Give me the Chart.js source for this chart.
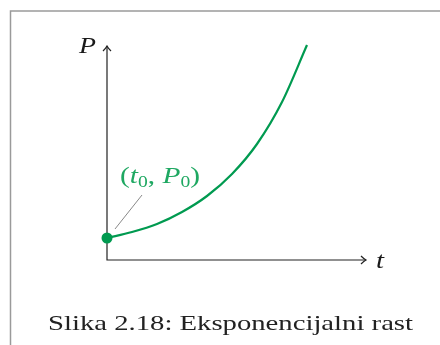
<!DOCTYPE html>
<html>
<head>
<meta charset="utf-8">
<script src="https://cdn.jsdelivr.net/npm/chart.js@4/dist/chart.umd.min.js"></script>
<style>
  html, body { margin: 0; padding: 0; background: #fff; }
  #wrap { width: 440px; height: 345px; position: relative; }
</style>
</head>
<body>
<div id="wrap"><canvas id="myChart" width="440" height="345"></canvas></div>
<script>
// growth curve P(t), t in axis units
let tValues = [0, 0.25, 0.5, 0.75, 1.0, 1.25, 1.5, 1.75, 2.0];
let pValues = [0.22, 0.28, 0.36, 0.48, 0.64, 0.86, 1.16, 1.58, 2.15];
let tMax = 2.59;
let pMax = 2.14;
let caption = "Slika 2.18: Eksponencijalni rast";

let green = "#009a50";
let serif = "'Liberation Serif', 'DejaVu Serif', serif";

var ctx = document.getElementById("myChart");

// draw text squeezed/stretched horizontally to a given width
function fitText(c, text, x, y, width) {
  let w = c.measureText(text).width;
  c.save();
  c.translate(x, y);
  c.scale(width / w, 1);
  c.fillText(text, 0, 0);
  c.restore();
}

// frame, axes with arrows, labels and caption
const sketch = {
  id: "sketch",
  beforeDatasetsDraw(chart) {
    let c = chart.ctx;
    let xs = chart.scales.x, ys = chart.scales.y;
    let x0 = xs.getPixelForValue(0), y0 = ys.getPixelForValue(0);
    let x1 = xs.getPixelForValue(tMax), y1 = ys.getPixelForValue(pMax);
    c.save();
    // page frame
    c.strokeStyle = "#9a9a9a";
    c.lineWidth = 1.5;
    c.beginPath();
    c.moveTo(10.5, 345);
    c.lineTo(10.5, 11);
    c.lineTo(440, 11);
    c.stroke();
    // axes
    c.strokeStyle = "#222";
    c.lineWidth = 1.2;
    c.beginPath();
    c.moveTo(x0, y1);
    c.lineTo(x0, y0);
    c.lineTo(x1, y0);
    c.stroke();
    c.beginPath();
    c.moveTo(x0 - 4, y1 + 5);
    c.quadraticCurveTo(x0 - 1, y1 + 2, x0, y1);
    c.quadraticCurveTo(x0 + 1, y1 + 2, x0 + 4, y1 + 5);
    c.moveTo(x1 - 5, y0 - 4);
    c.quadraticCurveTo(x1 - 2, y0 - 1, x1, y0);
    c.quadraticCurveTo(x1 - 2, y0 + 1, x1 - 5, y0 + 4);
    c.stroke();
    // axis names
    c.fillStyle = "#1a1a1a";
    c.font = "italic 24px " + serif;
    c.textBaseline = "alphabetic";
    c.textAlign = "left";
    fitText(c, "P", x0 - 28, y1 + 7, 17);
    fitText(c, "t", x1 + 10, y0 + 8, 8);
    // caption
    c.fillStyle = "#222";
    c.font = "22px " + serif;
    fitText(c, caption, 48, 330, 365);
    // callout for the starting point
    let px = xs.getPixelForValue(tValues[0]), py = ys.getPixelForValue(pValues[0]);
    c.strokeStyle = "#888";
    c.lineWidth = 1;
    c.beginPath();
    c.moveTo(px + 8, py - 9);
    c.lineTo(px + 35, py - 43);
    c.stroke();
    // (t0, P0)
    c.fillStyle = "#1fa862";
    let parts = [
      ["(", "24px " + serif, 0],
      ["t", "italic 24px " + serif, 0],
      ["0", "16px " + serif, 4],
      [", ", "24px " + serif, 0],
      ["P", "italic 24px " + serif, 0],
      ["0", "16px " + serif, 4],
      [")", "24px " + serif, 0],
    ];
    let total = 0;
    parts.forEach((p) => {
      c.font = p[1];
      total += c.measureText(p[0]).width;
    });
    let k = 80 / total;
    c.save();
    c.translate(px + 13, py - 55);
    c.scale(k, 1);
    let lx = 0;
    parts.forEach((p) => {
      c.font = p[1];
      c.fillText(p[0], lx, p[2]);
      lx += c.measureText(p[0]).width;
    });
    c.restore();
    c.restore();
  },
};

var myLineChart = new Chart(ctx, {
  type: "line",
  data: {
    labels: tValues,
    datasets: [
      {
        data: tValues.map((t, i) => ({ x: t, y: pValues[i] })),
        borderColor: green,
        backgroundColor: green,
        borderWidth: 2.2,
        cubicInterpolationMode: "monotone",
        pointRadius: (c) => (c.dataIndex === 0 ? 5.5 : 0),
        pointBorderWidth: 0,
        clip: false,
      },
    ],
  },
  options: {
    responsive: false,
    animation: false,
    layout: { padding: { left: 107, right: 74, top: 46, bottom: 85 } },
    plugins: { legend: { display: false }, tooltip: { enabled: false } },
    scales: {
      x: { type: "linear", min: 0, max: tMax, display: false },
      y: { type: "linear", min: 0, max: pMax, display: false },
    },
  },
  plugins: [sketch],
});
</script>
</body>
</html>
